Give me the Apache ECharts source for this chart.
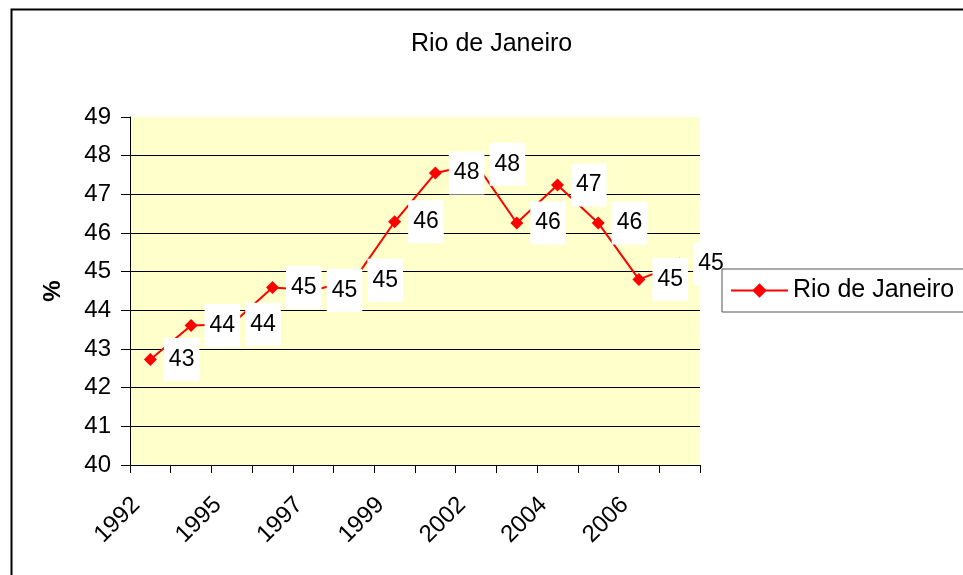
<!DOCTYPE html>
<html>
<head>
<meta charset="utf-8">
<script src="https://cdn.jsdelivr.net/npm/echarts@6/dist/echarts.min.js"></script>
<style>
  html, body { margin: 0; padding: 0; background: #fff; }
  #chart { width: 963px; height: 575px; }
</style>
</head>
<body>
<div id="chart"></div>
<script>
  // PNAD years (no 1994, 2000)
  var years = ['1992', '1993', '1995', '1996', '1997', '1998', '1999',
               '2001', '2002', '2003', '2004', '2005', '2006', '2007'];
  var rioValues = [42.73, 43.61, 43.64, 44.59, 44.52, 44.78, 46.29,
                   47.55, 47.78, 46.26, 47.24, 46.26, 44.80, 45.2];
  var seriesName = 'Rio de Janeiro';
  var yAxisName = '%';

  var myChart = echarts.init(document.getElementById('chart'));
  var option = {
    backgroundColor: '#fff',
    textStyle: { fontFamily: 'Liberation Sans, Arial', color: '#000' },
    title: {
      text: seriesName,
      left: 406,
      top: 27,
      textStyle: { fontSize: 25, fontWeight: 'normal', color: '#000' }
    },
    graphic: [{
      type: 'rect',
      left: 9, top: 7,
      shape: { width: 1000, height: 620 },
      style: { fill: 'none', stroke: '#000', lineWidth: 2 },
      silent: true
    }],
    legend: {
      data: [seriesName],
      left: 722,
      top: 269,
      orient: 'vertical',
      padding: [9, 40, 9, 8],
      borderColor: '#555',
      borderWidth: 1,
      backgroundColor: '#fff',
      itemWidth: 57,
      itemHeight: 18,
      textStyle: { fontSize: 25, color: '#000' }
    },
    grid: {
      left: 130, right: 263, top: 117, bottom: 110,
      show: true, backgroundColor: '#FFFFCC', borderWidth: 0
    },
    xAxis: {
      type: 'category',
      data: years,
      boundaryGap: true,
      axisLine: { lineStyle: { color: '#000', width: 1 } },
      axisTick: { show: true, interval: 0, length: 8, lineStyle: { color: '#000' } },
      axisLabel: {
        interval: 1,
        rotate: 45,
        fontSize: 24,
        color: '#000',
        margin: 22,
        padding: [0, 20, 0, 0]
      },
      splitLine: { show: false }
    },
    yAxis: {
      type: 'value',
      min: 40, max: 49, interval: 1,
      name: yAxisName,
      nameLocation: 'middle',
      nameGap: 65,
      nameTextStyle: { fontSize: 24, fontWeight: 'bold', color: '#000' },
      axisLine: { show: true, lineStyle: { color: '#000', width: 1 } },
      axisTick: { show: true, length: 9, lineStyle: { color: '#000' } },
      axisLabel: { fontSize: 24, color: '#000', margin: 19 },
      splitLine: { show: true, showMaxLine: false, lineStyle: { color: '#000', width: 1 } }
    },
    series: [{
      name: seriesName,
      type: 'line',
      data: rioValues,
      symbol: 'diamond',
      symbolSize: 13,
      itemStyle: { color: '#FF0000' },
      lineStyle: { color: '#FF0000', width: 2 },
      label: {
        show: true,
        position: 'right',
        distance: 7,
        fontSize: 23,
        color: '#000',
        backgroundColor: '#fff',
        padding: [10, 5, 10, 5],
        formatter: function (p) { return Math.round(p.value); }
      },
      animation: false
    }],
    animation: false
  };
  myChart.setOption(option);
</script>
</body>
</html>
